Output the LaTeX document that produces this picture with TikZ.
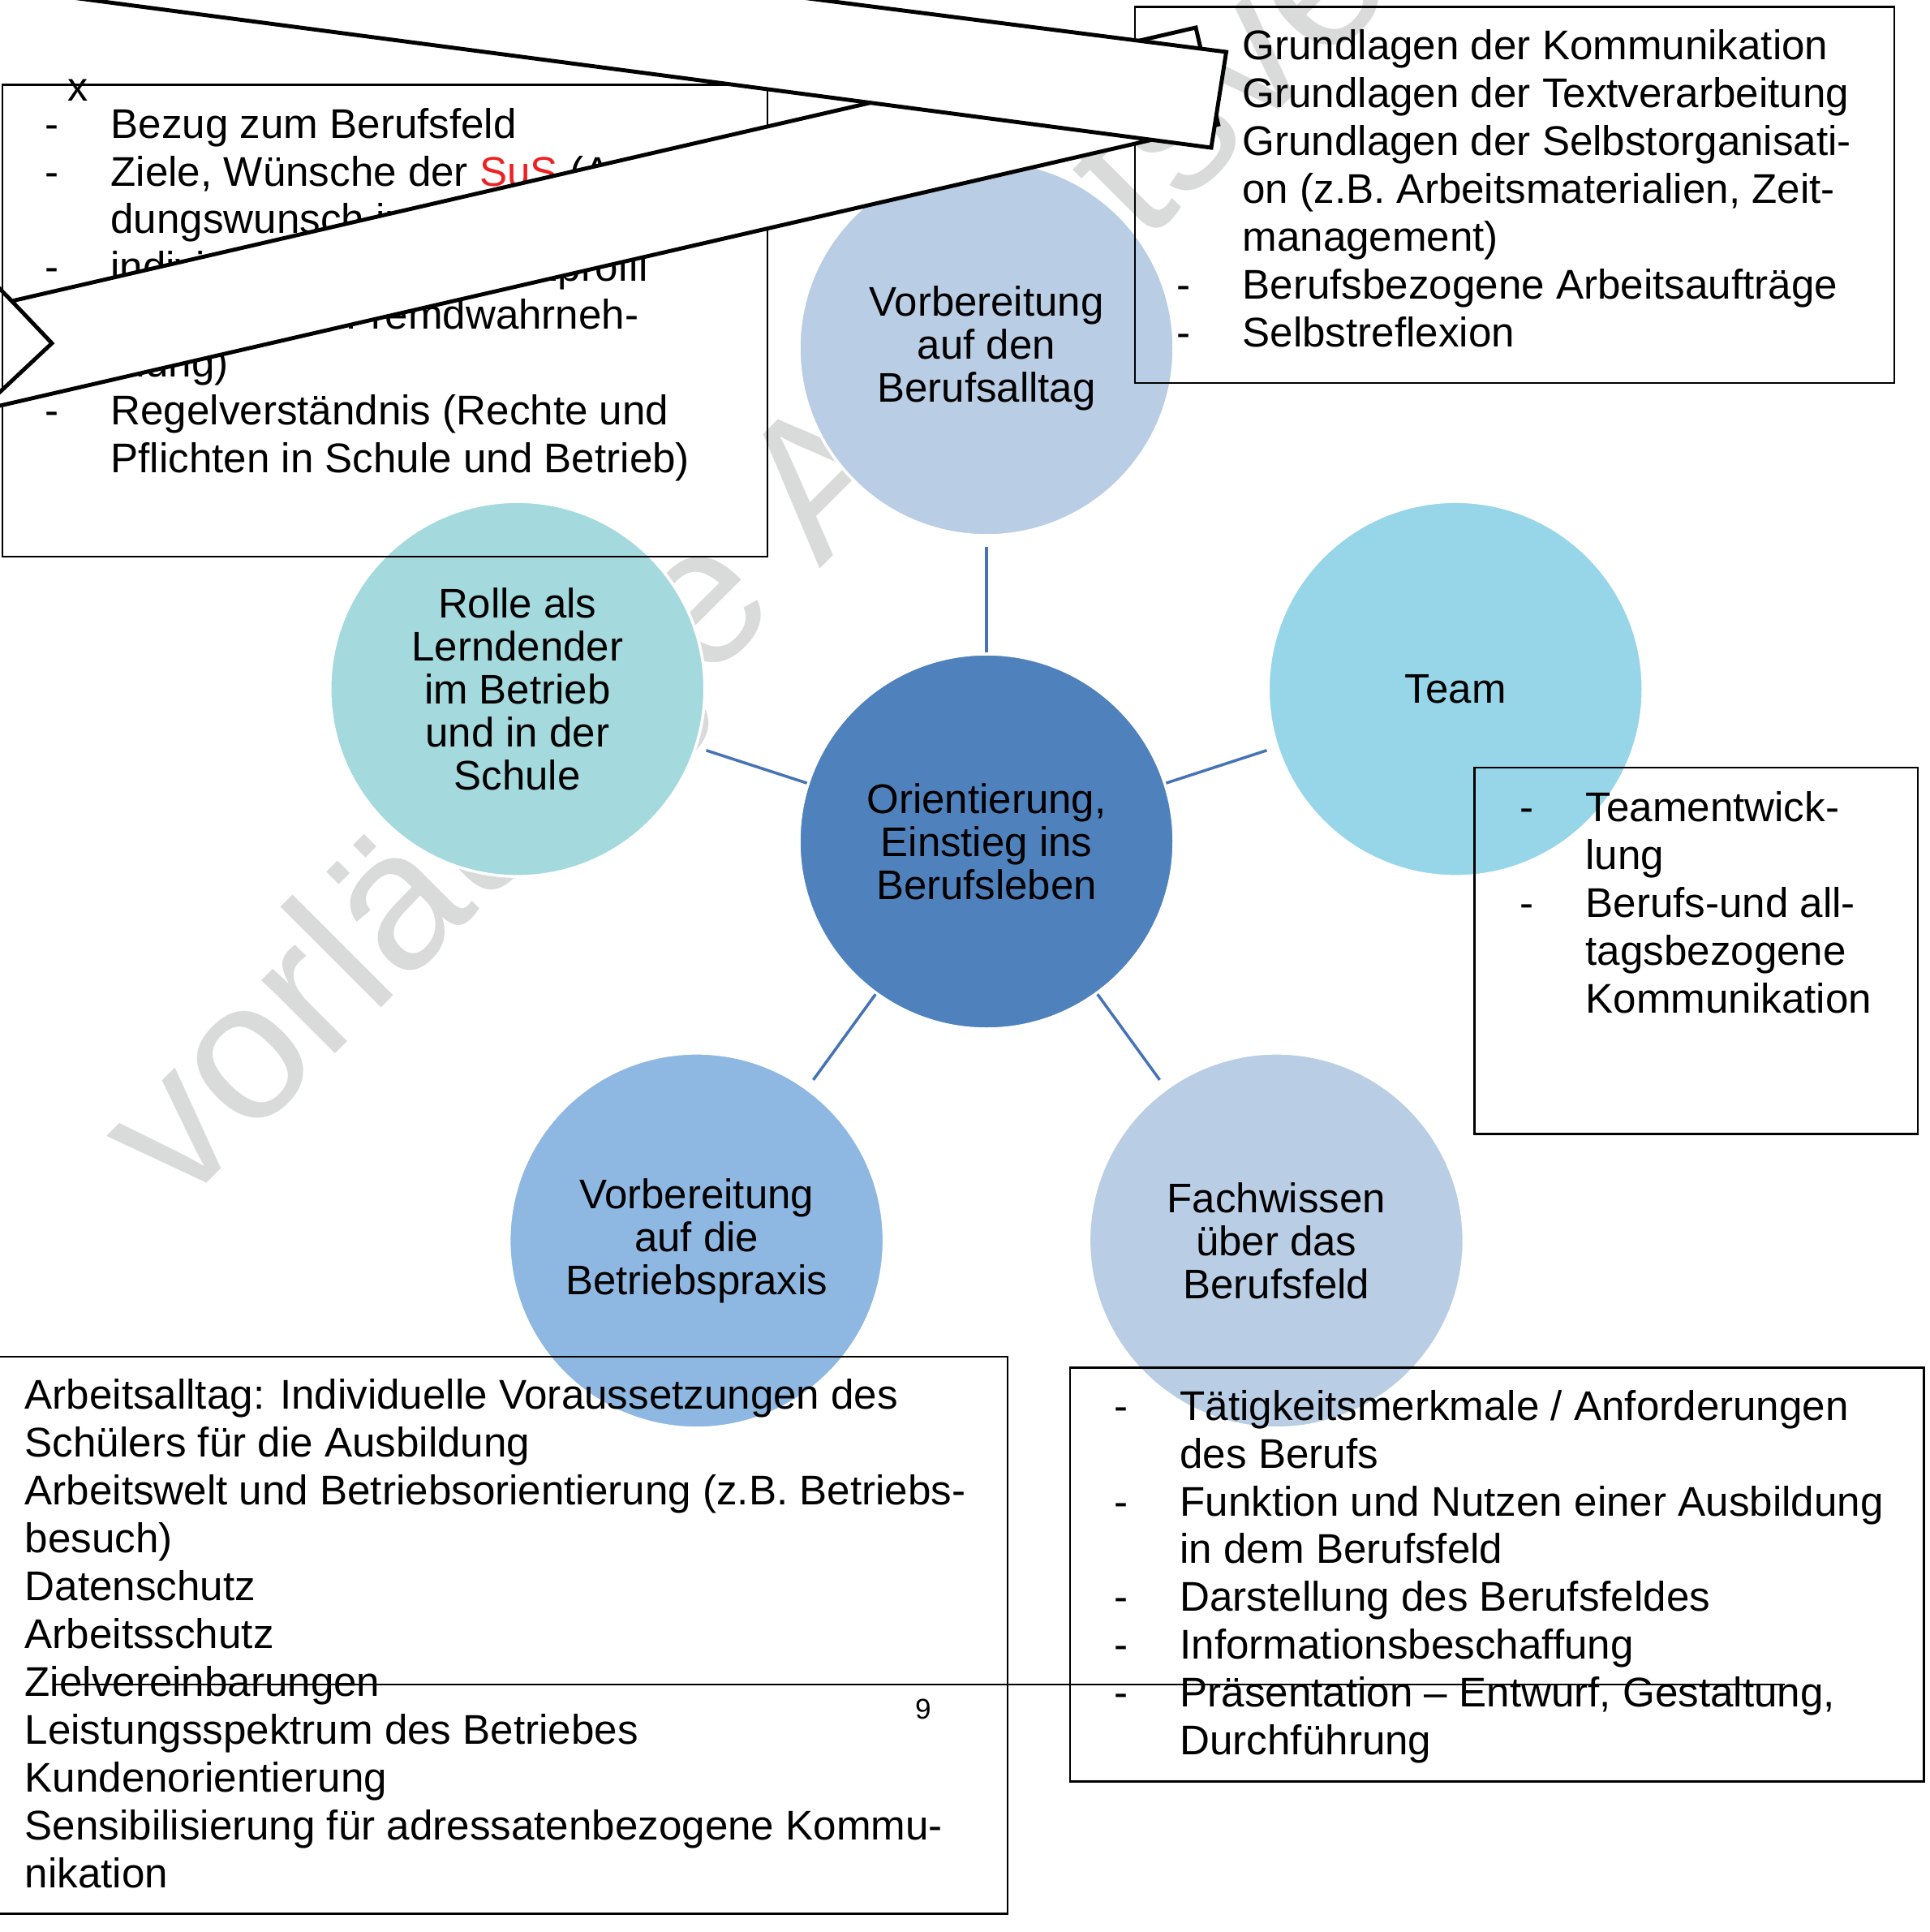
\documentclass[tikz,border=0pt]{standalone}
\usepackage{fontspec}
\setmainfont{Liberation Sans}
\usetikzlibrary{calc}

\definecolor{ctrblue}{HTML}{4F81BD}
\definecolor{paleblue}{HTML}{B9CDE5}
\definecolor{teamcyan}{HTML}{97D6E9}
\definecolor{rolecyan}{HTML}{A4DADD}
\definecolor{praxblue}{HTML}{8EB8E2}
\definecolor{connblue}{HTML}{4573B5}
\definecolor{wmgray}{HTML}{D9DADA}
\definecolor{susred}{HTML}{ED2024}

\newlength\dashw
\setlength\dashw{23pt}
\newcommand\dsh{\makebox[\dashw][l]{-}}
\newcommand\ind{\hspace*{\dashw}}

\tikzset{
  bubble/.style={circle,minimum size=4.62cm,inner sep=0pt,draw=white,line width=1pt,
    align=center,font=\fontsize{14.5}{15.1}\selectfont},
  listbox/.style={draw=black,line width=0.8pt},
  listtext/.style={anchor=base west,align=left,inner sep=0pt,font=\fontsize{14.55}{16.76}\selectfont},
  conn/.style={draw=connblue,line width=1pt,shorten <=0.12cm},
  band/.style={draw=black,fill=white,line width=1.4pt,line join=miter},
}

\begin{document}
\begin{tikzpicture}
\useasboundingbox (0,0) rectangle (23.79,-23.81);
\clip (0,0) rectangle (23.79,-23.81);

% watermark
\node (wm) [rotate=45,anchor=base,text=wmgray,font=\fontsize{68.9}{80}\selectfont] at (11.586,-5.54) {vorläufige Arbeitsversion};

% circles
\node (ctr) [bubble,fill=ctrblue] at (12.16,-10.37) {Orientierung,\\Einstieg ins\\Berufsleben};
\node (alltag) [bubble,fill=paleblue] at ($(ctr)+(90:6.08)$) {Vorbereitung\\auf den\\Berufsalltag};
\node (team) [bubble,fill=teamcyan] at ($(ctr)+(18:6.08)$) {Team};
\node (fach) [bubble,fill=paleblue] at ($(ctr)+(-54:6.08)$) {Fachwissen\\über das\\Berufsfeld};
\node (praxis) [bubble,fill=praxblue] at ($(ctr)+(-126:6.08)$) {Vorbereitung\\auf die\\Betriebspraxis};
\node (rolle) [bubble,fill=rolecyan] at ($(ctr)+(162:6.08)$) {Rolle als\\Lerndender\\im Betrieb\\und in der\\Schule};

\foreach \s in {alltag,team,fach,praxis,rolle}
  \draw[conn] (\s) -- (ctr);

% boxes (text placed by its last baseline)
\draw[listbox] (0.03,-1.045) rectangle (9.46,-6.86);
\draw[listbox] (13.99,-0.085) rectangle (23.35,-4.72);
\draw[listbox] (18.175,-9.46) rectangle (23.64,-13.975);
\draw[listbox] (-0.05,-16.72) rectangle (12.42,-23.585);
\draw[listbox] (13.19,-16.855) rectangle (23.715,-21.955);

\node (rollelist) [listtext] at (0.55,-5.825) {\dsh Bezug zum Berufsfeld\\
\dsh Ziele, Wünsche der \textcolor{susred}{SuS} (Ausbil-\\
\ind dungswunsch im Berufsfeld)\\
\dsh individuelles Kompetenzprofil\\
\ind (Selbst- und Fremdwahrneh-\\
\ind mung)\\
\dsh Regelverständnis (Rechte und\\
\ind Pflichten in Schule und Betrieb)};

\node (alltaglist) [listtext] at (14.50,-4.272) {\ind Grundlagen der Kommunikation\\
\ind Grundlagen der Textverarbeitung\\
\ind Grundlagen der Selbstorganisati-\\
\ind on (z.B. Arbeitsmaterialien, Zeit-\\
\ind management)\\
\dsh Berufsbezogene Arbeitsaufträge\\
\dsh Selbstreflexion};

\node (teamlist) [listtext] at (18.73,-12.485) {\dsh Teamentwick-\\
\ind lung\\
\dsh Berufs-und all-\\
\ind tagsbezogene\\
\ind Kommunikation};

\node (praxislist) [listtext] at (0.30,-23.26) {Arbeitsalltag: Individuelle Voraussetzungen des\\
Schülers für die Ausbildung\\
Arbeitswelt und Betriebsorientierung (z.B. Betriebs-\\
besuch)\\
Datenschutz\\
Arbeitsschutz\\
Zielvereinbarungen\\
Leistungsspektrum des Betriebes\\
Kundenorientierung\\
Sensibilisierung für adressatenbezogene Kommu-\\
nikation};

\node (fachlist) [listtext] at (13.73,-21.625) {\dsh Tätigkeitsmerkmale / Anforderungen\\
\ind des Berufs\\
\dsh Funktion und Nutzen einer Ausbildung\\
\ind in dem Berufsfeld\\
\dsh Darstellung des Berufsfeldes\\
\dsh Informationsbeschaffung\\
\dsh Präsentation – Entwurf, Gestaltung,\\
\ind Durchführung};

% page footer
\coordinate (footl) at (0.68,-20.76);
\coordinate (footr) at (22.0,-20.76);
\draw[line width=0.6pt] (footl) -- (footr);
\node (pnum) [anchor=base,inner sep=0pt,font=\fontsize{10}{12}\selectfont] at (11.38,-21.18) {9};

% the two bands on top
\draw[band] (0.145,-3.71) -- (14.74,-0.34) -- (15.016,-1.534) -- (-0.24,-5.055) -- (0.64,-4.23) -- cycle;
\draw[band] (0.145,-3.71) -- (-0.06,-3.50);
\draw[band] (-2.0,1.553) -- (15.115,-0.64) -- (14.93,-1.82) -- (-2.0,0.411) -- cycle;

\node (mark) [anchor=base,inner sep=0pt,font=\fontsize{14.3}{16.76}\selectfont] at (0.96,-1.24) {x};
\end{tikzpicture}
\end{document}
